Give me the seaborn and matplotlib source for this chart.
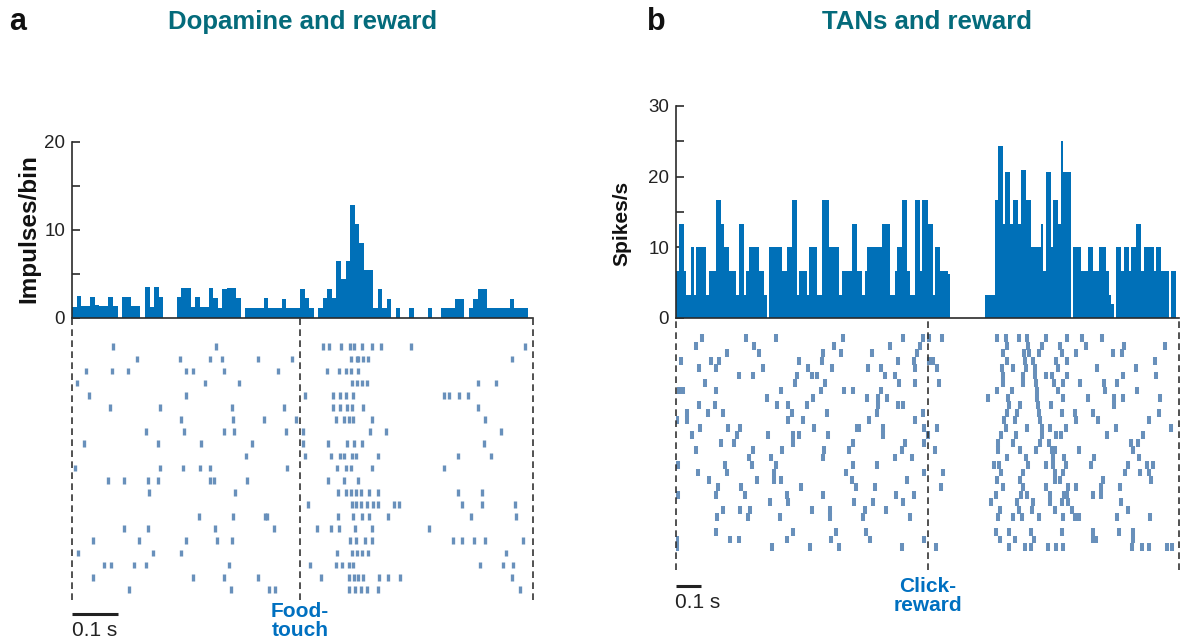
import numpy as np
import pandas as pd
import matplotlib
matplotlib.use("Agg")
import matplotlib.pyplot as plt
import seaborn as sns

# ---------------- data ----------------
# Panel a: dopamine PSTH, 10 ms bins starting at -0.5 s (impulses/bin)
dopa_t_start = -0.5
dopa_bin_s = 0.01
dopa_hist = [
    1.2, 2.5, 1.4, 1.4, 2.4, 1.5, 1.4, 1.4, 2.4, 1.4,
    0, 2.4, 2.4, 1.4, 1.4, 0, 3.5, 1.25, 3.5, 2.4,
    0, 0, 0, 2.4, 3.4, 3.4, 1.25, 2.4, 1.25, 1.25,
    3.4, 2.3, 1.1, 3.3, 3.4, 3.4, 2.3, 0, 1.1, 1.1,
    1.1, 1.1, 2.3, 1.1, 1.1, 1.1, 2.2, 1.1, 1.1, 1.1,
    3.3, 2.3, 1.1, 0, 1.1, 2.3, 3.3, 2.3, 6.5, 4.4,
    6.5, 12.8, 10.7, 8.5, 5.4, 5.4, 1.1, 3.3, 1.1, 2.2,
    0, 1.1, 0, 0, 1.1, 0, 0, 0, 1.1, 0,
    0, 1.1, 1.1, 1.1, 2.2, 2.2, 0, 1.1, 2.2, 3.3,
    3.3, 1.1, 1.1, 1.1, 1.1, 1.1, 2.2, 1.1, 1.1, 1.1,
    0,
]
# Panel a raster: spike times (s) per trial, relative to food touch
dopa_trials = [
    [-0.409, -0.185, 0.051, 0.063, 0.091, 0.110, 0.118, 0.135, 0.157, 0.177, 0.243, 0.493],
    [-0.358, -0.263, -0.198, -0.170, -0.093, -0.018, 0.111, 0.124, 0.128, 0.139, 0.149, 0.464],
    [-0.469, -0.413, -0.378, -0.249, -0.234, -0.167, -0.049, 0.060, 0.086, 0.100, 0.111, 0.127],
    [-0.488, -0.209, -0.134, 0.113, 0.126, 0.137, 0.148, 0.391, 0.429],
    [-0.463, -0.249, 0.010, 0.072, 0.088, 0.100, 0.117, 0.315, 0.327, 0.349, 0.368],
    [-0.417, -0.308, -0.150, -0.036, 0.072, 0.088, 0.102, 0.113, 0.138, 0.390],
    [-0.262, -0.148, -0.080, -0.009, 0.080, 0.096, 0.107, 0.117, 0.157, 0.406],
    [-0.337, -0.255, -0.166, -0.145, -0.031, 0.006, 0.154, 0.188, 0.440],
    [-0.474, -0.312, -0.216, -0.106, 0.006, 0.062, 0.104, 0.119, 0.137, 0.404],
    [-0.119, 0.012, 0.067, 0.087, 0.097, 0.113, 0.122, 0.172, 0.346, 0.418],
    [-0.493, -0.308, -0.257, -0.220, -0.198, -0.029, 0.082, 0.100, 0.112, 0.159, 0.316],
    [-0.422, -0.387, -0.334, -0.312, -0.198, -0.189, -0.117, 0.062, 0.097, 0.128],
    [-0.332, -0.143, 0.084, 0.101, 0.111, 0.123, 0.133, 0.152, 0.172, 0.346, 0.400],
    [0.017, 0.113, 0.122, 0.133, 0.148, 0.161, 0.170, 0.207, 0.218, 0.355, 0.400, 0.472],
    [-0.222, -0.148, -0.077, -0.072, 0.084, 0.117, 0.137, 0.152, 0.194, 0.376, 0.474],
    [-0.387, -0.333, -0.187, -0.058, 0.037, 0.069, 0.085, 0.121, 0.159, 0.284],
    [-0.453, -0.352, -0.249, -0.181, -0.150, 0.110, 0.123, 0.143, 0.159, 0.335, 0.355, 0.381, 0.406, 0.490],
    [-0.486, -0.322, -0.260, 0.082, 0.113, 0.124, 0.137, 0.150, 0.452],
    [-0.430, -0.414, -0.363, -0.338, -0.156, 0.022, 0.080, 0.092, 0.108, 0.116, 0.394, 0.446, 0.467],
    [-0.455, -0.234, -0.167, -0.091, 0.047, 0.108, 0.119, 0.128, 0.138, 0.174, 0.192, 0.220, 0.466],
    [-0.376, -0.151, -0.069, -0.054, 0.108, 0.121, 0.134, 0.148, 0.170, 0.482],
]

# Panel b: TAN PSTH, 10 ms bins starting at -1.0 s (spikes/s)
tan_t_start = -1.0
tan_bin_s = 0.01
tan_hist = [
    6.7, 13.3, 13.3, 6.7, 3.3, 3.3, 10, 3.3, 10, 10,
    10, 10, 3.3, 6.7, 6.7, 6.7, 16.7, 16.7, 13.3, 10,
    10, 6.7, 6.7, 6.7, 3.3, 13.3, 13.3, 3.3, 6.7, 10,
    10, 10, 10, 6.7, 6.7, 3.3, 0, 10, 10, 10,
    10, 10, 6.7, 6.7, 10, 10, 16.7, 16.7, 3.3, 6.7,
    6.7, 6.7, 3.3, 10, 10, 10, 3.3, 3.3, 16.7, 16.7,
    16.7, 10, 10, 10, 10, 3.3, 6.7, 6.7, 6.7, 6.7,
    13.3, 13.3, 6.7, 6.7, 3.3, 6.7, 10, 10, 10, 10,
    10, 10, 13.3, 13.3, 13.3, 3.3, 3.3, 6.7, 10, 10,
    16.7, 16.7, 6.7, 3.3, 3.3, 16.7, 16.7, 6.7, 16.7, 16.7,
    13.3, 13.3, 3.3, 10, 10, 6.7, 6.7, 6.7, 6.2, 0,
    0, 0, 0, 0, 0, 0, 0, 0, 0, 0,
    0, 0, 0, 3.3, 3.3, 3.3, 3.3, 16.7, 24.3, 24.3,
    13.3, 20.7, 20.7, 13.3, 16.7, 16.7, 13.3, 21, 21, 16.7,
    16.7, 10, 10, 10, 10, 13.3, 6.7, 20.7, 20.7, 10,
    16.7, 16.7, 13.3, 25, 20.7, 20.7, 20.7, 0, 10, 10,
    10, 6.7, 6.7, 6.7, 10, 10, 6.7, 6.7, 10, 10,
    10, 6.7, 3.3, 2, 0, 10, 10, 6.7, 10, 10,
    6.7, 10, 10, 13.3, 13.3, 6.7, 10, 10, 10, 10,
    6.7, 10, 10, 6.7, 6.7, 6.7, 0, 6.7, 6.7, 0,
]
# Panel b raster: spike times (s) per trial, relative to click-reward
tan_trials = [
    [-0.895, -0.722, -0.604, -0.337, -0.096, -0.019, 0.006, 0.056, 0.278, 0.312, 0.362, 0.394, 0.470, 0.555, 0.613, 0.695],
    [-0.922, -0.690, -0.373, -0.149, -0.031, 0.316, 0.401, 0.455, 0.527, 0.629, 0.780, 0.943],
    [-0.796, -0.669, -0.416, -0.343, -0.221, -0.043, 0.301, 0.384, 0.405, 0.445, 0.533, 0.592, 0.739, 0.772],
    [-0.980, -0.862, -0.829, -0.511, -0.418, -0.119, -0.054, 0.006, 0.023, 0.316, 0.388, 0.418, 0.511, 0.556, 0.906],
    [-0.909, -0.841, -0.655, -0.474, -0.378, -0.237, -0.185, -0.050, 0.036, 0.295, 0.339, 0.392, 0.427, 0.520, 0.673, 0.830],
    [-0.751, -0.693, -0.520, -0.461, -0.438, -0.169, -0.128, 0.299, 0.381, 0.429, 0.470, 0.495, 0.556, 0.776, 0.910],
    [-0.886, -0.528, -0.406, -0.113, -0.048, 0.047, 0.300, 0.381, 0.430, 0.502, 0.539, 0.608, 0.700, 0.755],
    [-0.989, -0.973, -0.840, -0.581, -0.423, -0.333, -0.295, -0.184, 0.275, 0.336, 0.434, 0.518, 0.706, 0.834],
    [-0.637, -0.457, -0.241, -0.195, -0.162, 0.239, 0.321, 0.437, 0.537, 0.639, 0.741, 0.779, 0.923],
    [-0.909, -0.844, -0.600, -0.553, -0.479, -0.198, -0.119, -0.097, 0.325, 0.368, 0.439, 0.490, 0.743],
    [-0.955, -0.874, -0.814, -0.540, -0.400, -0.202, -0.017, 0.315, 0.355, 0.443, 0.533, 0.585, 0.659, 0.919],
    [-0.995, -0.958, -0.556, -0.494, -0.233, -0.048, 0.303, 0.348, 0.447, 0.590, 0.678, 0.879],
    [-0.906, -0.792, -0.746, -0.453, -0.282, -0.274, -0.176, -0.013, 0.039, 0.312, 0.394, 0.454, 0.487, 0.551, 0.749, 0.970],
    [-0.938, -0.756, -0.633, -0.536, -0.512, -0.394, -0.176, 0.002, 0.291, 0.351, 0.454, 0.511, 0.530, 0.712, 0.858],
    [-0.822, -0.769, -0.533, -0.295, -0.089, -0.014, 0.279, 0.341, 0.447, 0.484, 0.809, 0.836],
    [-0.919, -0.695, -0.580, -0.410, -0.313, -0.100, 0.031, 0.279, 0.368, 0.431, 0.494, 0.507, 0.601, 0.816],
    [-0.708, -0.622, -0.416, -0.128, -0.060, 0.315, 0.392, 0.498, 0.543, 0.661, 0.841],
    [-0.992, -0.805, -0.698, -0.602, -0.295, -0.202, 0.263, 0.284, 0.401, 0.471, 0.500, 0.549, 0.651, 0.798, 0.871, 0.895],
    [-0.914, -0.799, -0.612, -0.323, -0.015, 0.060, 0.291, 0.381, 0.506, 0.540, 0.787, 0.845, 0.879],
    [-0.869, -0.677, -0.609, -0.584, -0.302, -0.082, 0.275, 0.368, 0.507, 0.527, 0.699, 0.890],
    [-0.834, -0.742, -0.504, -0.283, -0.207, 0.055, 0.299, 0.378, 0.471, 0.559, 0.590, 0.690, 0.767],
    [-0.994, -0.842, -0.724, -0.559, -0.414, -0.124, -0.054, 0.272, 0.372, 0.394, 0.487, 0.543, 0.553, 0.657, 0.691],
    [-0.626, -0.555, -0.291, -0.218, -0.096, 0.251, 0.354, 0.421, 0.487, 0.533, 0.557, 0.771],
    [-0.814, -0.747, -0.706, -0.459, -0.388, -0.250, -0.165, 0.288, 0.364, 0.415, 0.508, 0.573, 0.796],
    [-0.838, -0.715, -0.585, -0.386, -0.256, -0.070, 0.279, 0.339, 0.377, 0.443, 0.540, 0.586, 0.604, 0.755, 0.885],
    [],
    [-0.841, -0.535, -0.362, -0.246, 0.271, 0.323, 0.410, 0.536, 0.658, 0.761, 0.818],
    [-0.995, -0.785, -0.748, -0.560, -0.384, -0.227, -0.015, 0.290, 0.348, 0.423, 0.659, 0.670, 0.818],
    [-0.995, -0.618, -0.467, -0.351, -0.100, 0.034, 0.325, 0.389, 0.412, 0.480, 0.511, 0.540, 0.813, 0.852, 0.879, 0.951, 0.973],
]

# ---------------- style ----------------
W, H = 1185, 644
sns.set_style("white")
plt.rcParams["font.family"] = ["Liberation Sans", "DejaVu Sans"]

HIST = "#0070b8"
RASTER = "#6890bb"
TEAL = "#046b7b"
EVENT = "#0070c0"
DARK = "#2b2b2b"

fig = plt.figure(figsize=(W / 100, H / 100), dpi=100)


def add_ax(l, t, r, b):
    return fig.add_axes([l / W, 1 - b / H, (r - l) / W, (b - t) / H])


def ftext(x, y, s, **kw):
    fig.text(x / W, 1 - y / H, s, **kw)


def psth(ax, values, t_start, bin_s, xlim, ylim, major, minor):
    n = len(values)
    edges = [t_start + bin_s * i for i in range(n + 1)]
    centers = [(edges[i] + edges[i + 1]) / 2 for i in range(n)]
    df = pd.DataFrame({"t": centers, "v": [float(v) for v in values]})
    sns.histplot(data=df, x="t", weights="v", bins=edges, ax=ax, color=HIST,
                 alpha=1, linewidth=0, edgecolor="none")
    ax.set_xlim(*xlim)
    ax.set_ylim(*ylim)
    ax.set_xlabel("")
    ax.set_ylabel("")
    ax.set_xticks([])
    ax.set_yticks(major)
    ax.set_yticks(minor, minor=True)
    ax.tick_params(axis="y", which="both", direction="in", length=6, width=1.2,
                   color=DARK, labelsize=13.5, labelcolor="#222222", pad=5, left=True)
    for s in ("top", "right"):
        ax.spines[s].set_visible(False)
    for s in ("left", "bottom"):
        ax.spines[s].set_color(DARK)
        ax.spines[s].set_linewidth(1.2)
    ax.patch.set_alpha(0)


def raster(ax, trials, xlim, ylim, ll, lw, vlines):
    ax.eventplot(trials, lineoffsets=np.arange(1, len(trials) + 1),
                 linelengths=ll, linewidths=lw, colors=RASTER)
    ax.set_xlim(*xlim)
    ax.set_ylim(*ylim)
    ax.axis("off")
    for x in vlines:
        ax.axvline(x, color="#333333", lw=1.2, dashes=(4, 2.6), clip_on=False)


# ---------------- panel a ----------------
a_xlim = (-0.5, 0.511)
ax_a = add_ax(72, 142, 533, 318)
psth(ax_a, dopa_hist, dopa_t_start, dopa_bin_s, a_xlim, (0, 20), [0, 10, 20], [5, 15])
ax_ar = add_ax(72, 318, 533, 600)
raster(ax_ar, dopa_trials, a_xlim, (21.88, -1.37), 0.55, 2.4, [-0.5, 0.0, 0.511])
ax_ar.plot([-0.5, -0.4], [23.04, 23.04], color="#222222", lw=2.2, clip_on=False,
           solid_capstyle="butt")

# ---------------- panel b ----------------
b_xlim = (-1.0, 1.0)
ax_b = add_ax(676, 106, 1179, 318)
psth(ax_b, tan_hist, tan_t_start, tan_bin_s, b_xlim, (0, 30), [0, 10, 20, 30], [5, 15, 25])
ax_br = add_ax(676, 318, 1179, 570)
raster(ax_br, tan_trials, b_xlim, (32.1, -1.73), 1.05, 2.9, [-1.0, 0.0, 1.0])
ax_br.plot([-1.0, -0.9], [34.25, 34.25], color="#222222", lw=2.2, clip_on=False,
           solid_capstyle="butt")

# ---------------- text ----------------
ftext(9, 22, "a", fontsize=22, fontweight="bold", color="#111111", ha="left", va="center")
ftext(647, 22, "b", fontsize=22, fontweight="bold", color="#111111", ha="left", va="center")
ftext(302.5, 22, "Dopamine and reward", fontsize=18.5, fontweight="bold", color=TEAL,
      ha="center", va="center")
ftext(927.5, 22, "TANs and reward", fontsize=18.5, fontweight="bold", color=TEAL,
      ha="center", va="center")
ftext(29, 229, "Impulses/bin", fontsize=17.5, fontweight="bold", color="#111111",
      rotation=90, ha="center", va="center")
ftext(622, 223, "Spikes/s", fontsize=15, fontweight="bold", color="#111111",
      rotation=90, ha="center", va="center")
ftext(72, 631, "0.1 s", fontsize=15, color="#222222", ha="left", va="center")
ftext(675, 602, "0.1 s", fontsize=15, color="#222222", ha="left", va="center")
ftext(300, 621, "Food-\ntouch", fontsize=15, fontweight="bold", color=EVENT,
      ha="center", va="center", linespacing=0.95)
ftext(927.5, 596, "Click-\nreward", fontsize=15, fontweight="bold", color=EVENT,
      ha="center", va="center", linespacing=0.95)

fig.savefig("out.png", dpi=100)
